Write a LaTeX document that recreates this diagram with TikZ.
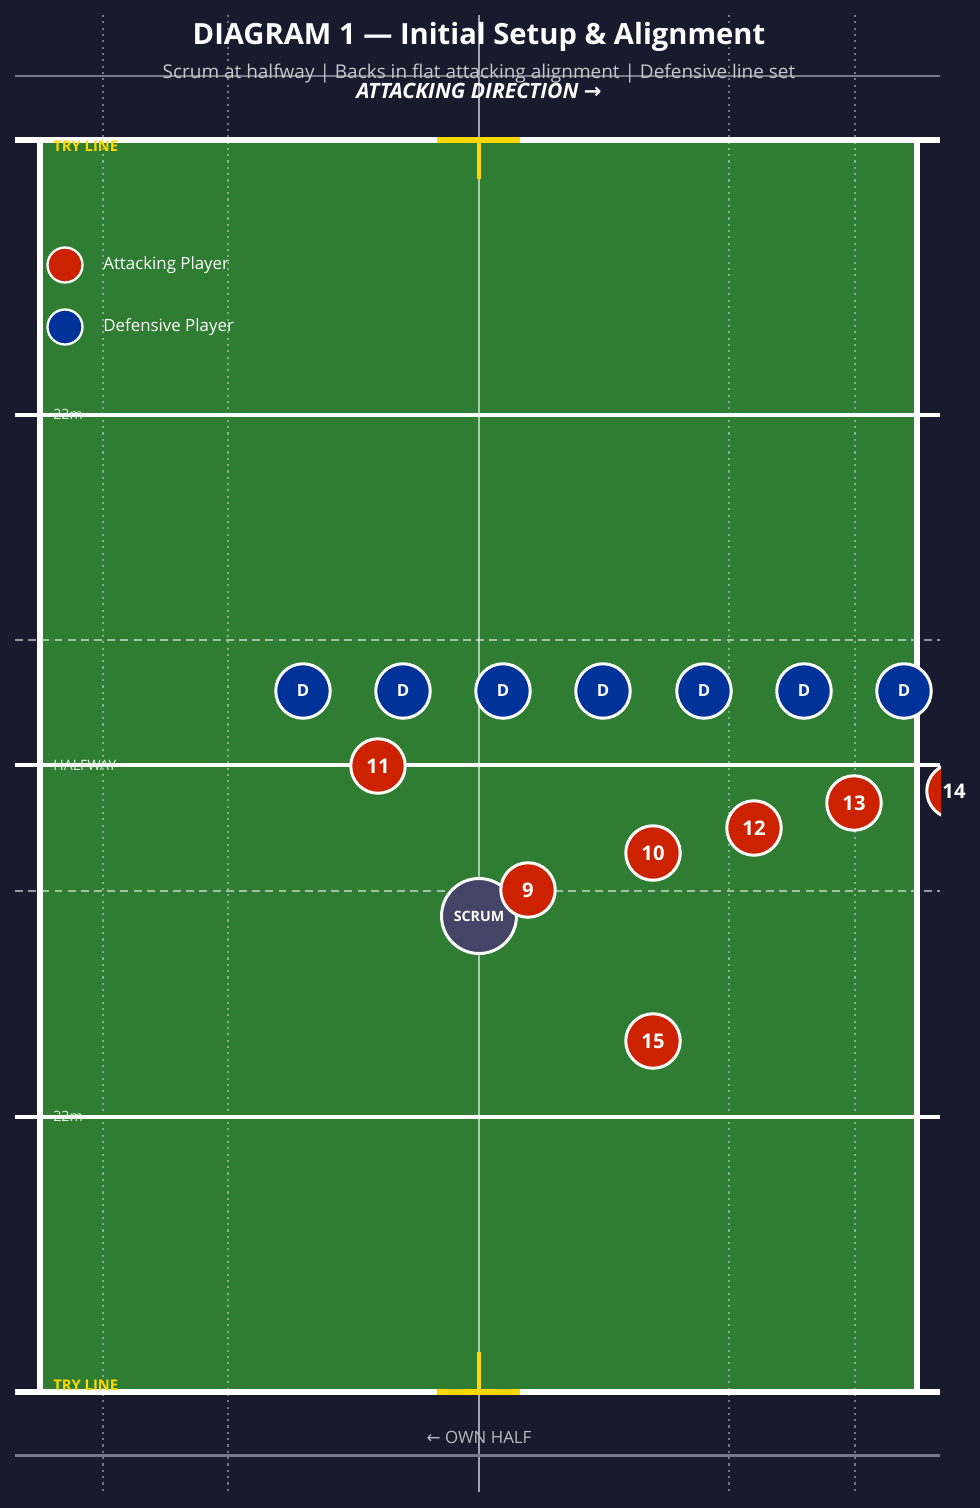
\documentclass[tikz,border=0pt]{standalone}
\usepackage{fontspec}
\setmainfont{Open Sans}
\newfontfamily\arrowfont{DejaVu Sans}
\usepackage{tikz}
\definecolor{bg}{RGB}{26,26,46}
\definecolor{pitch}{RGB}{46,125,50}
\definecolor{att}{RGB}{204,34,0}
\definecolor{def}{RGB}{0,51,153}
\definecolor{scrumcol}{RGB}{68,68,102}
\definecolor{post}{RGB}{255,215,0}
\definecolor{rule}{RGB}{120,120,136}
\newcommand{\drawthick}{\draw[white,line width=3.4pt]}
\newcommand{\drawmark}{\draw[white,line width=2pt]}
\newcommand{\fsize}[1]{\fontsize{#1}{#1}\selectfont}
\newcommand{\attacker}[3]{\node[attack] (a#1) at (#2,#3) {#1};}
\newcommand{\defender}[3]{\node[defend] (#1) at (#2,#3) {D};}
\tikzset{
  player/.style={circle,draw=white,line width=1.7pt,inner sep=0pt,minimum size=1.09cm,
    text=white,font=\bfseries\fsize{11.5}},
  attack/.style={player,fill=att},
  defend/.style={player,fill=def,font=\bfseries\fsize{9.5}},
  legdot/.style={circle,draw=white,line width=1.3pt,minimum size=0.7cm,inner sep=0pt},
  marklabel/.style={anchor=west,inner sep=0pt,font=\fsize{8.1},text=white!85!pitch},
  tryhint/.style={anchor=west,inner sep=0pt,font=\bfseries\fsize{8.4},text=post},
}
\begin{document}
\begin{tikzpicture}[x=0.02cm,y=-0.02cm]
\useasboundingbox (0,0) rectangle (980,1508);
\fill[bg] (0,0) rectangle (980,1508);
\fill[pitch] (38,140) rectangle (917,1392);
% channels and centre line
\foreach \x in {103,228,729,855}{
  \draw[white,opacity=.4,line width=.9pt,dash pattern=on 1.2pt off 2.4pt] (\x,15)--(\x,1492);
}
\draw[white,opacity=.6,line width=1.2pt] (479,15)--(479,1492);
\draw[rule,line width=1.7pt] (15,76)--(940,76);
\draw[rule,line width=1.7pt] (15,1455)--(940,1455);
% pitch markings
\foreach \y in {640,891}{
  \draw[white,opacity=.55,line width=.9pt,dash pattern=on 4.5pt off 3pt] (15,\y)--(940,\y);
}
\drawmark (15,415)--(940,415);
\drawmark (15,765)--(940,765);
\drawmark (15,1117)--(940,1117);
\drawthick (40,140)--(40,1392);
\drawthick (917,140)--(917,1392);
\drawthick (15,140)--(940,140);
\drawthick (15,1392)--(940,1392);
% posts
\draw[post,line width=3.4pt] (437,140)--(520,140);
\draw[post,line width=2.4pt] (479,140)--(479,179);
\draw[post,line width=3.4pt] (437,1392)--(520,1392);
\draw[post,line width=2.4pt] (479,1392)--(479,1352);
% texts
\node[font=\bfseries\fsize{16.6},text=white] (title) at (479,37) {DIAGRAM 1 — Initial Setup \& Alignment};
\node[font=\fsize{10.8},text=white!75!bg] (sub) at (479,73.5) {Scrum at halfway | Backs in flat attacking alignment | Defensive line set};
\node[font=\bfseries\itshape\fsize{12},text=white] (dir) at (479,91) {ATTACKING DIRECTION {\arrowfont →}};
\node[font=\fsize{9.6},text=white!70!bg] (own) at (479,1437) {{\arrowfont ←} OWN HALF};
\node[tryhint] (try1) at (53,146) {TRY LINE};
\node[tryhint] (try2) at (53,1385) {TRY LINE};
\node[marklabel] (m22a) at (53,414) {22m};
\node[marklabel] (half) at (53,765) {HALFWAY};
\node[marklabel] (m22b) at (53,1116) {22m};
% legend
\node[legdot,fill=att] (legA) at (65,265) {};
\node[legdot,fill=def] (legD) at (65,327) {};
\node[anchor=west,inner sep=0pt,font=\fsize{9.6},text=white] (legAt) at (103,265) {Attacking Player};
\node[anchor=west,inner sep=0pt,font=\fsize{9.6},text=white] (legDt) at (103,327) {Defensive Player};
% defence
\defender{d1}{303}{691}\defender{d2}{403}{691}\defender{d3}{503}{691}\defender{d4}{603}{691}
\defender{d5}{704}{691}\defender{d6}{804}{691}\defender{d7}{904}{691}
% attack
\node[player,fill=scrumcol,minimum size=1.5cm,font=\bfseries\fsize{8.1}] (scrum) at (479,916) {SCRUM};
\attacker{11}{378}{766}\attacker{9}{528}{890}\attacker{10}{653}{853}
\attacker{12}{754}{828}\attacker{13}{854}{803}\attacker{15}{653}{1041}
\begin{scope}
\clip (15,15) rectangle (941,1495);
\node[attack] (a14) at (954,791) {};
\end{scope}
\node[text=white,font=\bfseries\fsize{11.5}] (n14) at (a14) {14};
\end{tikzpicture}
\end{document}
